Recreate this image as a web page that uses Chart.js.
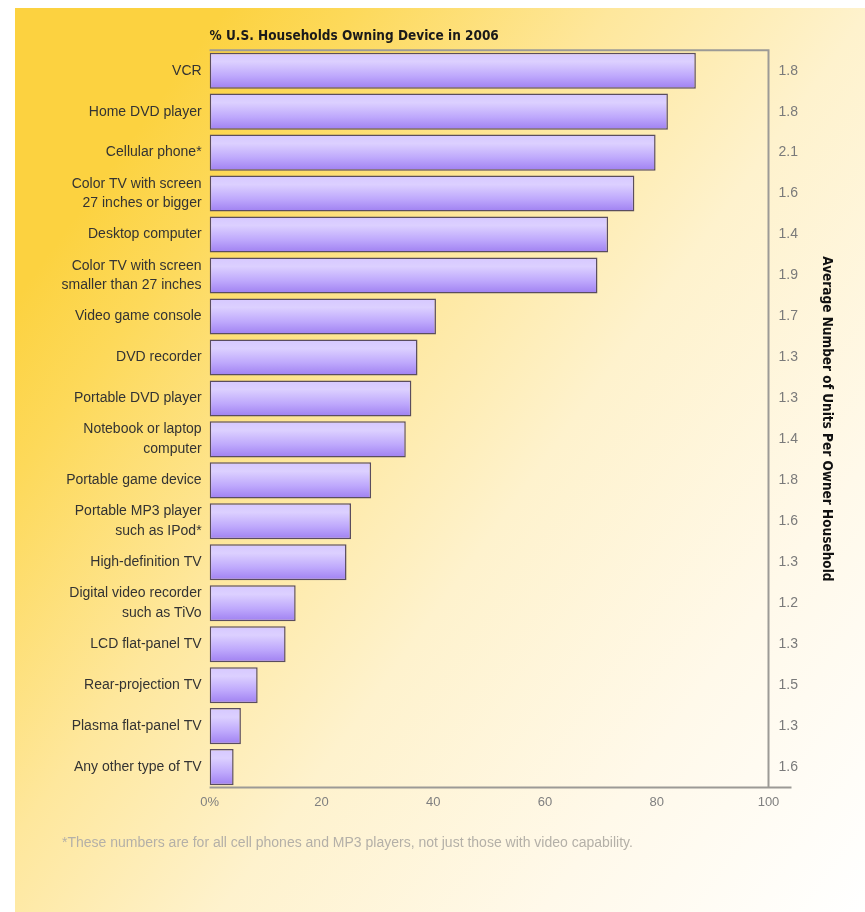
<!DOCTYPE html>
<html>
<head>
<meta charset="utf-8">
<script src="https://cdn.jsdelivr.net/npm/chart.js@4.4.1/dist/chart.umd.min.js"></script>
<style>
html,body{margin:0;padding:0;background:#ffffff;}
#wrap{width:865px;height:912px;position:relative;}
</style>
</head>
<body>
<div id="wrap"><canvas id="c"></canvas></div>
<script>
// ---- data ----
const chartTitle = '% U.S. Households Owning Device in 2006';
const rightAxisTitle = 'Average Number of Units Per Owner Household';
const footnote = '*These numbers are for all cell phones and MP3 players, not just those with video capability.';
const categories = [
  'VCR',
  'Home DVD player',
  'Cellular phone*',
  ['Color TV with screen', '27 inches or bigger'],
  'Desktop computer',
  ['Color TV with screen', 'smaller than 27 inches'],
  'Video game console',
  'DVD recorder',
  'Portable DVD player',
  ['Notebook or laptop', 'computer'],
  'Portable game device',
  ['Portable MP3 player', 'such as IPod*'],
  'High-definition TV',
  ['Digital video recorder', 'such as TiVo'],
  'LCD flat-panel TV',
  'Rear-projection TV',
  'Plasma flat-panel TV',
  'Any other type of TV'
];
const ownershipPct = [87, 82, 79.8, 76, 71.3, 69.4, 40.5, 37.2, 36.1, 35.1, 28.9, 25.3, 24.5, 15.4, 13.6, 8.6, 5.6, 4.3];
const unitsPerHousehold = [1.8, 1.8, 2.1, 1.6, 1.4, 1.9, 1.7, 1.3, 1.3, 1.4, 1.8, 1.6, 1.3, 1.2, 1.3, 1.5, 1.3, 1.6];
const xTickLabels = ['0%', '20', '40', '60', '80', '100'];

const unitLabels = unitsPerHousehold.map(v => v.toFixed(1));
const BAR_PCT = 0.88;
const CONDENSED = '"Liberation Sans Narrow", "DejaVu Sans Condensed", sans-serif';
const SANS = '"Liberation Sans", Arial, sans-serif';

const bgPlugin = {
  id: 'bgPlugin',
  beforeDraw(chart) {
    const ctx = chart.ctx;
    ctx.save();
    ctx.fillStyle = '#ffffff';
    ctx.fillRect(0, 0, chart.width, chart.height);
    const g = ctx.createLinearGradient(15, 300, 865, 912);
    g.addColorStop(0, '#fcd240');
    g.addColorStop(0.1, '#fdd95a');
    g.addColorStop(0.3, '#fee79c');
    g.addColorStop(0.5, '#fef2cd');
    g.addColorStop(0.75, '#fff9ea');
    g.addColorStop(1, '#ffffff');
    ctx.fillStyle = g;
    ctx.fillRect(15, 8, chart.width - 15, chart.height - 8);
    ctx.restore();
  },
  beforeDatasetsDraw(chart) {
    const {ctx, chartArea: a} = chart;
    ctx.save();
    ctx.strokeStyle = '#9c9a96';
    ctx.lineWidth = 2;
    ctx.beginPath();
    ctx.moveTo(a.left, a.top);
    ctx.lineTo(a.right, a.top);
    ctx.lineTo(a.right, a.bottom);
    ctx.moveTo(a.left, a.bottom);
    ctx.lineTo(a.right + 23, a.bottom);
    ctx.stroke();
    ctx.restore();
  }
};

function barFill(context) {
  const chart = context.chart;
  const area = chart.chartArea;
  if (!area || !chart.scales.y) return '#bca6fb';
  const y = chart.scales.y.getPixelForValue(context.dataIndex);
  const h = (area.bottom - area.top) / categories.length * BAR_PCT;
  const g = chart.ctx.createLinearGradient(0, y - h / 2, 0, y + h / 2);
  g.addColorStop(0, '#d6c8ff');
  g.addColorStop(0.25, '#dcd0ff');
  g.addColorStop(0.65, '#bea8fc');
  g.addColorStop(1, '#9f80f1');
  return g;
}

new Chart(document.getElementById('c'), {
  type: 'bar',
  data: {
    labels: categories,
    datasets: [{
      label: chartTitle,
      data: ownershipPct,
      backgroundColor: barFill,
      borderColor: '#5a4d5e',
      borderWidth: 1.5,
      borderSkipped: false,
      barPercentage: BAR_PCT,
      categoryPercentage: 1
    }]
  },
  plugins: [bgPlugin],
  options: {
    indexAxis: 'y',
    responsive: true,
    maintainAspectRatio: false,
    animation: false,
    devicePixelRatio: 1,
    layout: { padding: { left: 62, right: 30, top: 28, bottom: 61 } },
    plugins: {
      legend: { display: false },
      tooltip: { enabled: false },
      title: {
        display: true,
        text: chartTitle,
        align: 'start',
        fullSize: false,
        color: '#1a1a1a',
        font: { family: CONDENSED, size: 13.5, weight: 'bold', lineHeight: 1.2 },
        padding: { top: 0, bottom: 6 }
      },
      subtitle: {
        display: true,
        text: footnote,
        position: 'bottom',
        align: 'start',
        color: '#b4b0a8',
        font: { family: SANS, size: 14, lineHeight: 1.1 },
        padding: { top: 18, bottom: 0 }
      }
    },
    scales: {
      x: {
        type: 'linear',
        min: 0,
        max: 100,
        grid: { display: false, drawTicks: false },
        border: { display: false },
        afterFit(scale) { scale.height = 30; },
        ticks: {
          stepSize: 20,
          padding: 7,
          color: '#808080',
          font: { family: SANS, size: 13 },
          callback: (v) => xTickLabels[Math.round(v / 20)]
        }
      },
      y: {
        type: 'category',
        grid: { display: false, drawTicks: false },
        border: { display: false },
        afterFit(scale) { scale.width = 147.6; },
        ticks: {
          autoSkip: false,
          padding: 8,
          color: '#333333',
          font: { family: SANS, size: 14, lineHeight: 1.4 }
        }
      },
      y2: {
        type: 'category',
        position: 'right',
        labels: unitLabels,
        offset: true,
        grid: { display: false, drawTicks: false },
        border: { display: false },
        afterFit(scale) { scale.width = 66.5; },
        ticks: {
          autoSkip: false,
          padding: 10,
          color: '#7a7a7a',
          font: { family: SANS, size: 14 }
        },
        title: {
          display: true,
          text: rightAxisTitle,
          color: '#111111',
          font: { family: CONDENSED, size: 13.5, weight: 'bold', lineHeight: 1.2 },
          padding: { top: 0, bottom: 0 }
        }
      }
    }
  }
});
</script>
</body>
</html>
